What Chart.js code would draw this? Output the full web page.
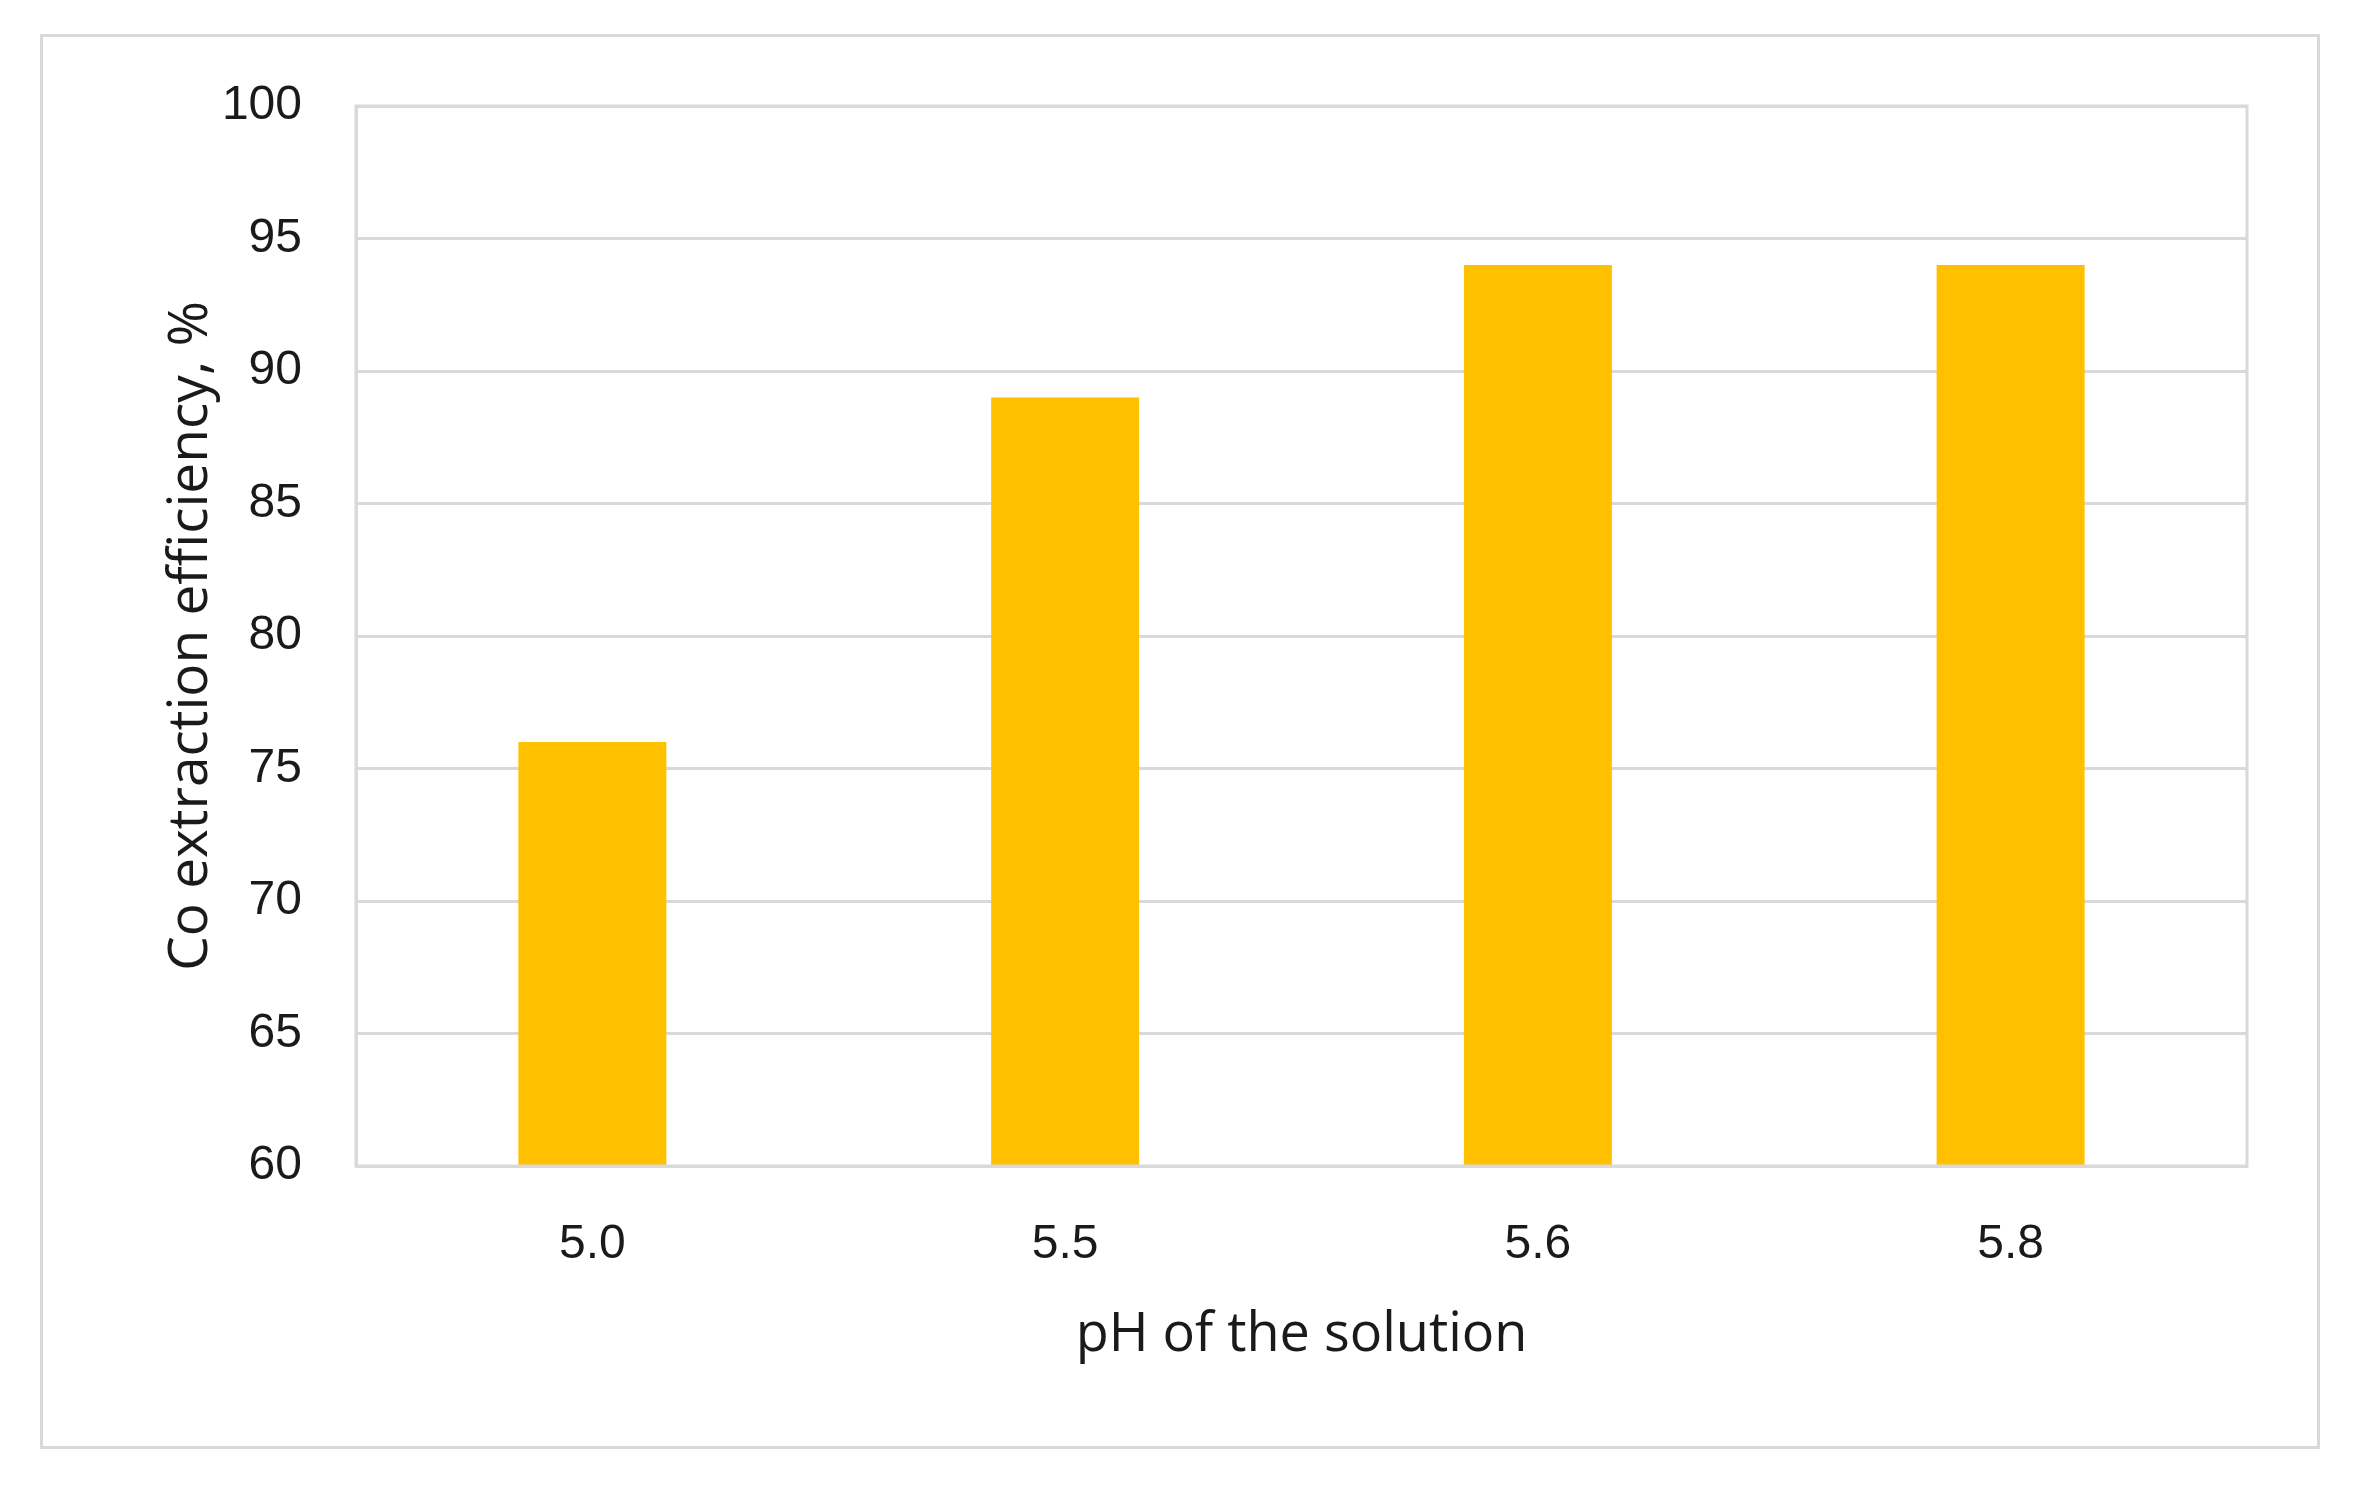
<!doctype html>
<html>
<head>
  <meta charset="utf-8">
  <title>Co extraction efficiency vs pH</title>
  <style>
    html, body { margin:0; padding:0; background:#fff; }
    #wrap { position:relative; width:2368px; height:1495px; }
    #frame { position:absolute; left:40px; top:34px; width:2274px; height:1409px; border:3px solid #d9d9d9; pointer-events:none; }
  </style>
  <script src="https://cdn.jsdelivr.net/npm/chart.js"></script>
</head>
<body>
  <div id="wrap">
    <canvas id="chart" width="2368" height="1495"></canvas>
    <div id="frame"></div>
  </div>

  <script>
    const phLabels = ['5.0', '5.5', '5.6', '5.8'];
    const efficiency = [76, 89, 94, 94];
    const yMin = 60, yMax = 100, yStep = 5;

    const gridColor = '#d9d9d9';
    const textColor = '#1a1a1a';

    // gray box round the plot area (right side is not drawn by the scales)
    const plotBorder = {
      id: 'plotBorder',
      afterDatasetsDraw(chart) {
        const { ctx, chartArea: a } = chart;
        ctx.save();
        ctx.strokeStyle = gridColor;
        ctx.lineWidth = 3;
        ctx.strokeRect(a.left, a.top, a.right - a.left, a.bottom - a.top);
        ctx.restore();
      }
    };

    new Chart(document.getElementById('chart'), {
      type: 'bar',
      data: {
        labels: phLabels,
        datasets: [{
          data: efficiency,
          backgroundColor: '#ffc000',
          borderWidth: 0,
          categoryPercentage: 1,
          barPercentage: 0.313
        }]
      },
      options: {
        responsive: false,
        animation: false,
        layout: { padding: { top: 106, right: 121, bottom: 0, left: 0 } },
        plugins: {
          legend: { display: false },
          tooltip: { enabled: false }
        },
        scales: {
          x: {
            grid: { display: false, drawTicks: false },
            border: { color: gridColor, width: 3 },
            ticks: { color: textColor, padding: 50, font: { family: 'Liberation Sans', size: 48 } },
            title: {
              display: true,
              text: 'pH of the solution',
              color: textColor,
              font: { family: 'Open Sans', size: 54 },
              padding: { top: 127, bottom: 127 }
            },
            afterFit(s) { s.height = 329; }
          },
          y: {
            min: yMin,
            max: yMax,
            ticks: { stepSize: yStep, color: textColor, padding: 54, font: { family: 'Liberation Sans', size: 48 } },
            grid: { color: gridColor, lineWidth: 3, drawTicks: false },
            border: { color: gridColor, width: 3 },
            title: {
              display: true,
              text: 'Co extraction efficiency, %',
              color: textColor,
              font: { family: 'Open Sans', size: 55 },
              padding: { top: 158, bottom: 158 }
            },
            afterFit(s) { s.width = 356; }
          }
        }
      },
      plugins: [plotBorder]
    });
  </script>
</body>
</html>
